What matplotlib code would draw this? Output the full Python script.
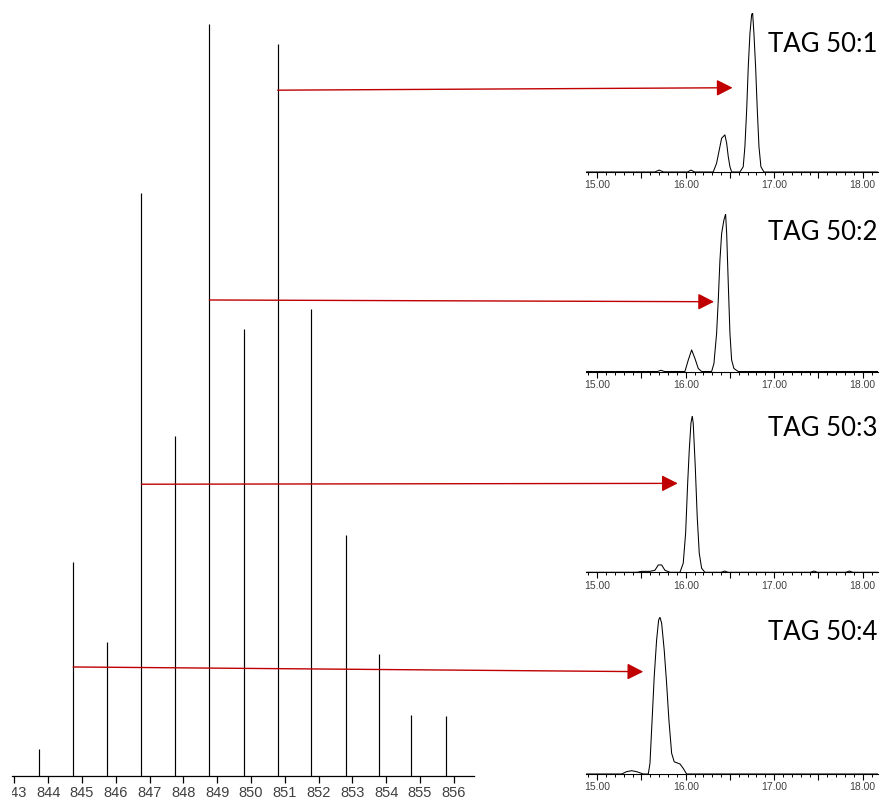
import matplotlib
matplotlib.use("Agg")
import matplotlib.pyplot as plt
from matplotlib.patches import ConnectionPatch
from matplotlib.ticker import MultipleLocator, FuncFormatter
from matplotlib.transforms import Bbox

W, H = 881, 799

# mass spectrum sticks (m/z, relative intensity %)
ms_mz = [843.74, 844.74, 845.75, 846.76, 847.76, 848.77, 849.78,
         850.79, 851.79, 852.80, 853.80, 854.75, 855.76]
ms_int = [3.6, 28.5, 17.8, 77.5, 45.2, 100.0, 59.4,
          97.3, 62.1, 32.0, 16.2, 8.1, 8.0]
ms_ticks = list(range(843, 857))

# extracted ion chromatograms (retention time in min, relative intensity %)
labels = ["TAG 50:1", "TAG 50:2", "TAG 50:3", "TAG 50:4"]

rt1 = [14.88, 15.65, 15.70, 15.75, 16.02, 16.06, 16.10, 16.311, 16.349, 16.379,
       16.406, 16.443, 16.463, 16.481, 16.500, 16.519, 16.613, 16.650, 16.669,
       16.689, 16.707, 16.726, 16.745, 16.756, 16.771, 16.790, 16.809, 16.828,
       16.850, 16.884, 18.17]
int1 = [0, 0, 1.2, 0, 0, 1.2, 0, 0, 5.5, 13.8, 21.2, 23.3, 18.0, 9.6, 3.3, 0,
        0, 3.3, 15.9, 39, 66, 87, 98.7, 100, 87, 66, 39, 15.9, 3.3, 0, 0]

rt2 = [14.88, 15.68, 15.72, 15.76, 15.991, 16.029, 16.067, 16.104, 16.142,
       16.180, 16.293, 16.319, 16.349, 16.368, 16.387, 16.406, 16.432, 16.451,
       16.463, 16.481, 16.500, 16.519, 16.545, 16.594, 18.17]
int2 = [0, 0, 0.8, 0, 0, 7.3, 13.7, 8.3, 1.9, 0, 0, 5.1, 24.1, 45.4, 70.8,
        87.6, 96.2, 100, 87.6, 55.9, 24.1, 7.3, 1.9, 0, 0]

rt3 = [14.88, 15.45, 15.50, 15.596, 15.652, 15.690, 15.728, 15.765, 15.822,
       15.935, 15.972, 15.999, 16.022, 16.040, 16.059, 16.074, 16.085, 16.108,
       16.130, 16.153, 16.180, 16.217, 16.40, 16.44, 16.48, 17.41, 17.45, 17.49,
       17.81, 17.85, 17.89, 18.17]
int3 = [0, 0, 0.6, 0.6, 1.3, 4.7, 4.7, 1.3, 0, 0, 5.8, 25, 56.9, 78.1, 95.3,
        100, 95.3, 67.6, 35.6, 12.2, 2.6, 0, 0, 0.8, 0, 0, 0.8, 0, 0, 0.8, 0, 0]

rt4 = [14.88, 15.276, 15.332, 15.389, 15.445, 15.520, 15.577, 15.596, 15.622,
       15.644, 15.671, 15.694, 15.709, 15.728, 15.757, 15.784, 15.810, 15.841,
       15.870, 15.935, 15.972, 16.010, 18.17]
int4 = [0, 0, 1.5, 2.1, 1.5, 0, 0, 6.8, 36.6, 62.1, 85.5, 98.3, 100, 96.2,
        79.1, 57.9, 34.5, 13.2, 7.8, 6.4, 3.6, 0, 0]

# arrows: from precursor stick to its chromatogram
arrow_mz = [850.79, 848.77, 846.76, 844.74]
arrow_ms_y = [91.2, 63.3, 38.8, 14.5]
arrow_rt = [16.53, 16.32, 15.91, 15.52]
arrow_rt_y = [52.9, 44.3, 56.9, 65.3]

traces = [(rt1, int1), (rt2, int2), (rt3, int3), (rt4, int4)]


def rect(left, top, right, bottom):
    return [left / W, 1 - bottom / H, (right - left) / W, (bottom - top) / H]


fig = plt.figure(figsize=(W / 100, H / 100), dpi=100)

# --- mass spectrum ---
ax = fig.add_axes(rect(12, 24, 474, 776))
ax.vlines(ms_mz, 0, ms_int, color="black", lw=0.85)
ax.set_xlim(842.93, 856.6)
ax.set_ylim(0, 100)
for s in ["left", "right", "top"]:
    ax.spines[s].set_visible(False)
ax.spines["bottom"].set_linewidth(0.9)
ax.set_yticks([])
ax.set_xticks(ms_ticks)
ax.tick_params(axis="x", length=5, width=0.9, pad=2, labelcolor="#404040",
               labelsize=10.5)
# the reference image is cropped just left of the axis line
clip = Bbox.from_extents(12, 0, W, H)
for lab in ax.get_xticklabels():
    lab.set_family(["Liberation Sans", "DejaVu Sans"])
    lab.set_stretch("condensed")
    lab.set_clip_box(clip)
    lab.set_clip_on(True)
ax.patch.set_alpha(0)

# --- chromatograms ---
baselines = [172, 371.5, 572.3, 774]
heights = [159.3, 157.5, 156.3, 156.7]
title_base = [51.7, 240, 436, 640]
panels = []
for i, (rt, inten) in enumerate(traces):
    b = baselines[i]
    axp = fig.add_axes(rect(586, b - heights[i], 877.7, b))
    axp.plot(rt, inten, color="black", lw=0.75)
    axp.set_xlim(14.873, 18.17)
    axp.set_ylim(0, 100)
    for s in ["left", "right", "top"]:
        axp.spines[s].set_visible(False)
    axp.spines["bottom"].set_linewidth(0.8)
    axp.set_yticks([])
    axp.xaxis.set_major_locator(MultipleLocator(0.5))
    axp.xaxis.set_minor_locator(MultipleLocator(0.1))
    axp.xaxis.set_major_formatter(
        FuncFormatter(lambda v, p: f"{v:.2f}" if abs(v - round(v)) < 1e-6 else ""))
    axp.tick_params(axis="x", which="major", length=4, width=0.8, pad=2,
                    labelsize=7.5, labelcolor="#404040")
    axp.tick_params(axis="x", which="minor", length=2.2, width=0.7)
    for lab in axp.get_xticklabels():
        lab.set_family(["Liberation Sans", "DejaVu Sans"])
    axp.patch.set_alpha(0)
    fig.text(877 / W, 1 - title_base[i] / H, labels[i], ha="right",
             va="baseline", fontsize=18.5, family=["Lato", "DejaVu Sans"])
    panels.append(axp)

for i in range(4):
    con = ConnectionPatch(xyA=(arrow_mz[i], arrow_ms_y[i]), coordsA=ax.transData,
                          xyB=(arrow_rt[i], arrow_rt_y[i]),
                          coordsB=panels[i].transData,
                          arrowstyle="-|>,head_length=0.65,head_width=0.33",
                          mutation_scale=15, color="#C00000", lw=1.0,
                          shrinkA=0, shrinkB=0)
    fig.add_artist(con)

fig.savefig("out.png", dpi=100)
